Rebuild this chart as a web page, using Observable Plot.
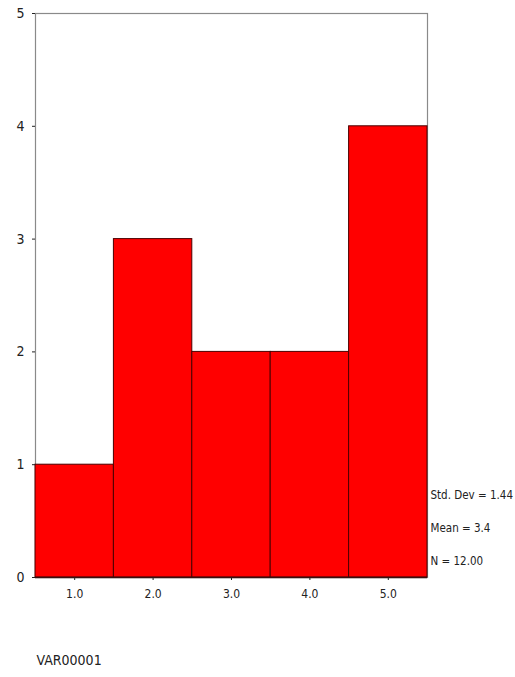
<!DOCTYPE html>
<html>
<head>
<meta charset="utf-8">
<script src="https://cdn.jsdelivr.net/npm/d3@7"></script>
<script src="https://cdn.jsdelivr.net/npm/@observablehq/plot@0.6"></script>
<style>
  html, body { margin: 0; padding: 0; background: #fff; }
  #chart svg { display: block; }
  #chart svg text { font-stretch: condensed; }
</style>
</head>
<body>
<div id="chart"></div>
<script>
const binCenters = [1, 2, 3, 4, 5];
const counts = [1, 3, 2, 2, 4];
const binWidth = 1;
const xTickValues = [1, 2, 3, 4, 5];
const yTickValues = [0, 1, 2, 3, 4, 5];
const statsLines = ["Std. Dev = 1.44", "Mean = 3.4", "N = 12.00"];
const variableName = "VAR00001";

const bins = binCenters.map((c, i) => ({x1: c - binWidth / 2, x2: c + binWidth / 2, count: counts[i]}));
const font = "'Liberation Sans Narrow', 'DejaVu Sans', sans-serif";

const chart = Plot.plot({
  width: 515,
  height: 677,
  marginLeft: 35,
  marginRight: 88,
  marginTop: 13,
  marginBottom: 100,
  style: {fontFamily: font, fontSize: "12px", color: "#222", background: "#fff"},
  x: {domain: [binCenters[0] - binWidth / 2, binCenters[binCenters.length - 1] + binWidth / 2]},
  y: {domain: [0, 5]},
  marks: [
    Plot.frame({stroke: "#8a8a8a", strokeWidth: 1.2}),
    Plot.rectY(bins, {x1: "x1", x2: "x2", y: "count", fill: "#ff0000", stroke: "#4a0000", strokeWidth: 1, inset: 0}),
    Plot.ruleY([0], {stroke: "#3a1010", strokeWidth: 1.5}),
    Plot.axisX({ticks: xTickValues, tickFormat: d => d.toFixed(1), tickSize: 3, tickPadding: 9, label: null, stroke: "#222", fill: "#222", fontSize: 12}),
    Plot.axisY({ticks: yTickValues, tickFormat: d => String(d), tickSize: 3, tickPadding: 8, label: null, stroke: "#222", fill: "#222", fontSize: 14}),
    Plot.text([statsLines.join("\n")], {
      text: d => d, frameAnchor: "bottom-right", textAnchor: "start", lineAnchor: "bottom",
      lineHeight: 2.85, dx: 3, dy: -13, fill: "#222", fontSize: 11.5
    }),
    Plot.text([variableName], {
      text: d => d, frameAnchor: "bottom-left", textAnchor: "start", lineAnchor: "middle",
      dx: 1, dy: 83, fill: "#222", fontSize: 14
    })
  ]
});
document.getElementById("chart").appendChild(chart);
</script>
</body>
</html>
